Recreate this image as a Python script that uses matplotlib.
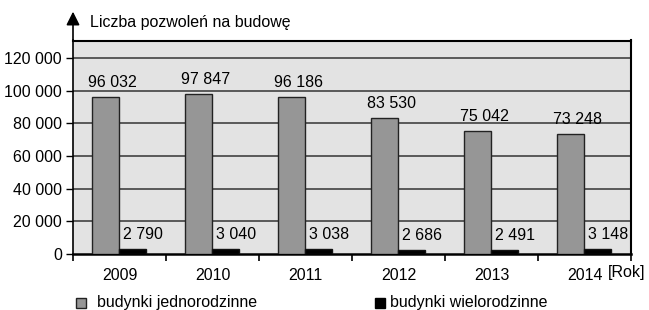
import matplotlib
matplotlib.use("Agg")
import matplotlib.pyplot as plt
from matplotlib.patches import Rectangle
import numpy as np

plt.rcParams['font.family'] = ['Liberation Sans', 'DejaVu Sans']

years = ["2009", "2010", "2011", "2012", "2013", "2014"]
jednorodzinne = [96032, 97847, 96186, 83530, 75042, 73248]
wielorodzinne = [2790, 3040, 3038, 2686, 2491, 3148]
yticks = [0, 20000, 40000, 60000, 80000, 100000, 120000]

def fmt(v):
    return f"{v:,}".replace(",", " ")

W, H = 649, 310
fig = plt.figure(figsize=(W/100, H/100), dpi=100)
ax = fig.add_axes([73/W, (H-254)/H, (631-73)/W, (254-40.5)/H])
ax.set_facecolor('#e3e3e3')

x = np.arange(len(years))
bw = 0.29
gray = '#969696'
ax.bar(x + 0.2 + bw/2, jednorodzinne, bw, color=gray, edgecolor='#222222', lw=1.0, zorder=3)
ax.bar(x + 0.2 + 1.5*bw, wielorodzinne, bw, color='black', edgecolor='#111111', lw=1.0, zorder=3)

fs = 11.5
for xi, v in zip(x, jednorodzinne):
    ax.annotate(fmt(v), (xi + 0.2 + bw/2 + 0.08, v), xytext=(0, 5), textcoords='offset points',
                ha='center', va='bottom', fontsize=fs)
for xi, v in zip(x, wielorodzinne):
    ax.annotate(fmt(v), (xi + 0.2 + 1.5*bw + 0.12, v), xytext=(0, 5), textcoords='offset points',
                ha='center', va='bottom', fontsize=fs)

ax.set_xlim(0, len(years))
ax.set_ylim(0, 130700)
ax.set_yticks(yticks)
ax.set_yticklabels([fmt(v) for v in yticks], fontsize=fs)
for v in yticks[1:]:
    ax.axhline(v, color='#333333', lw=1.1, zorder=1)

ax.set_xticks(x + 0.5)
ax.set_xticklabels(years, fontsize=fs)
ax.set_xticks(np.arange(len(years) + 1), minor=True)
ax.tick_params(axis='x', which='major', length=0, pad=10)
ax.tick_params(axis='x', which='minor', length=5, width=1.2, direction='out')
ax.tick_params(axis='y', length=5, width=1.0, pad=3)

for s in ['top', 'right']:
    ax.spines[s].set_linewidth(1.5)
ax.spines['bottom'].set_linewidth(1.8)
ax.spines['left'].set_linewidth(1.2)

# y-axis arrow
ax.annotate('', xy=(0, 1.135), xytext=(0, 1.0), xycoords='axes fraction',
            arrowprops=dict(arrowstyle='-|>', mutation_scale=20, color='black', lw=1.2,
                            shrinkA=0, shrinkB=0), annotation_clip=False)
ax.text(0.03, 1.085, "Liczba pozwoleń na budowę", transform=ax.transAxes,
        ha='left', va='center', fontsize=fs)

ax.text(5.755, -0.088, "[Rok]", transform=ax.get_xaxis_transform(), ha='left', va='center',
        fontsize=fs)

# legend
fig.patches.append(Rectangle((76/W, (H-308)/H), 10/W, 10/H, transform=fig.transFigure,
                             facecolor=gray, edgecolor='#222222', lw=1.0))
fig.text(97/W, (H-303)/H, "budynki jednorodzinne", ha='left', va='center', fontsize=fs)
fig.patches.append(Rectangle((375/W, (H-308)/H), 10/W, 10/H, transform=fig.transFigure,
                             facecolor='black', edgecolor='black', lw=1.0))
fig.text(390/W, (H-303)/H, "budynki wielorodzinne", ha='left', va='center', fontsize=fs)

fig.savefig("out.png", dpi=100)
